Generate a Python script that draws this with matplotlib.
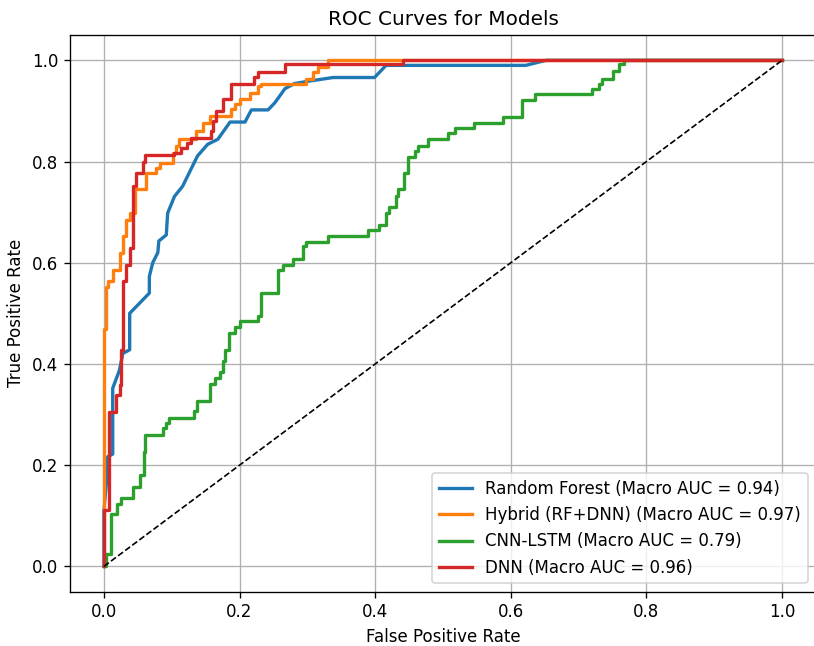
import matplotlib
matplotlib.use("Agg")
import matplotlib.pyplot as plt

# Random Forest (line vertices)
rf_fpr = [0, 0, 0.005, 0.005, 0.013, 0.013, 0.023, 0.028, 0.038, 0.038, 0.067, 0.067,
          0.072, 0.0795, 0.081, 0.092, 0.094, 0.104, 0.116, 0.138, 0.153, 0.168, 0.186,
          0.208, 0.2175, 0.242, 0.252, 0.267, 0.281, 0.303, 0.338, 0.399, 0.416, 0.622,
          0.652, 1.0]
rf_tpr = [0, 0.11, 0.184, 0.216, 0.222, 0.352, 0.388, 0.421, 0.428, 0.50, 0.54, 0.573,
          0.60, 0.62, 0.643, 0.655, 0.698, 0.731, 0.751, 0.811, 0.834, 0.844, 0.878,
          0.878, 0.902, 0.902, 0.916, 0.944, 0.954, 0.959, 0.966, 0.966, 0.990, 0.990,
          1.0, 1.0]

# Hybrid (RF+DNN) (step-post breakpoints)
hy_fpr = [0, 0, 0.0034, 0.006, 0.013, 0.023, 0.028, 0.033, 0.038, 0.046, 0.062, 0.077,
          0.082, 0.102, 0.106, 0.110, 0.136, 0.146, 0.156, 0.188, 0.193, 0.200, 0.215,
          0.227, 0.232, 0.298, 0.308, 0.316, 0.330, 1.0]
hy_tpr = [0, 0.47, 0.553, 0.563, 0.586, 0.619, 0.652, 0.685, 0.698, 0.745, 0.778, 0.787,
          0.797, 0.817, 0.830, 0.844, 0.860, 0.877, 0.890, 0.903, 0.913, 0.923, 0.935,
          0.950, 0.954, 0.964, 0.977, 0.987, 1.0, 1.0]

# CNN-LSTM (step-post breakpoints)
cl_fpr = [0, 0.003, 0.010, 0.019, 0.025, 0.0435, 0.053, 0.0585, 0.061, 0.0874, 0.091,
          0.0957, 0.133, 0.138, 0.157, 0.164, 0.171, 0.176, 0.179, 0.185, 0.193, 0.200,
          0.227, 0.232, 0.257, 0.264, 0.279, 0.294, 0.2985, 0.331, 0.389, 0.406, 0.416,
          0.421, 0.431, 0.434, 0.443, 0.448, 0.458, 0.463, 0.478, 0.507, 0.517, 0.546,
          0.588, 0.616, 0.635, 0.719, 0.730, 0.735, 0.750, 0.760, 0.767, 1.0]
cl_tpr = [0, 0.025, 0.104, 0.124, 0.136, 0.157, 0.181, 0.226, 0.260, 0.273, 0.283,
          0.294, 0.308, 0.327, 0.360, 0.372, 0.385, 0.405, 0.428, 0.462, 0.474, 0.484,
          0.495, 0.541, 0.586, 0.596, 0.607, 0.633, 0.640, 0.653, 0.665, 0.675, 0.698,
          0.711, 0.731, 0.745, 0.778, 0.809, 0.820, 0.830, 0.844, 0.857, 0.867, 0.877,
          0.888, 0.921, 0.934, 0.944, 0.954, 0.964, 0.979, 0.992, 1.0, 1.0]

# DNN (step-post breakpoints)
dn_fpr = [0, 0, 0.007, 0.018, 0.023, 0.0255, 0.028, 0.033, 0.038, 0.043, 0.048, 0.058,
          0.061, 0.104, 0.114, 0.122, 0.129, 0.158, 0.161, 0.166, 0.176, 0.188, 0.222,
          0.227, 0.267, 0.441, 1.0]
dn_tpr = [0, 0.111, 0.306, 0.339, 0.358, 0.428, 0.563, 0.596, 0.629, 0.751, 0.778, 0.800,
          0.812, 0.817, 0.827, 0.837, 0.847, 0.860, 0.880, 0.900, 0.923, 0.954, 0.967,
          0.977, 0.992, 1.0, 1.0]

labels = ["Random Forest (Macro AUC = 0.94)",
          "Hybrid (RF+DNN) (Macro AUC = 0.97)",
          "CNN-LSTM (Macro AUC = 0.79)",
          "DNN (Macro AUC = 0.96)"]

DPI = 120
fig = plt.figure(figsize=(814 / DPI, 646 / DPI), dpi=DPI)
ax = fig.add_axes([70/814, 54.3/646, 746/814, 556.7/646])

ax.plot(rf_fpr, rf_tpr, color="#1f77b4", lw=2, label=labels[0])
ax.plot(hy_fpr, hy_tpr, color="#ff7f0e", lw=2, drawstyle="steps-post", label=labels[1])
ax.plot(cl_fpr, cl_tpr, color="#2ca02c", lw=2, drawstyle="steps-post", label=labels[2])
ax.plot(dn_fpr, dn_tpr, color="#d62728", lw=2, drawstyle="steps-post", label=labels[3])
ax.plot([0, 1], [0, 1], "k--", lw=1)

ax.set_xlim(-0.05, 1.05)
ax.set_ylim(-0.05, 1.05)
ax.set_xlabel("False Positive Rate")
ax.set_ylabel("True Positive Rate")
ax.set_title("ROC Curves for Models")
ax.grid(True)
ax.legend(loc="lower right")

fig.savefig("out.png", dpi=DPI)
